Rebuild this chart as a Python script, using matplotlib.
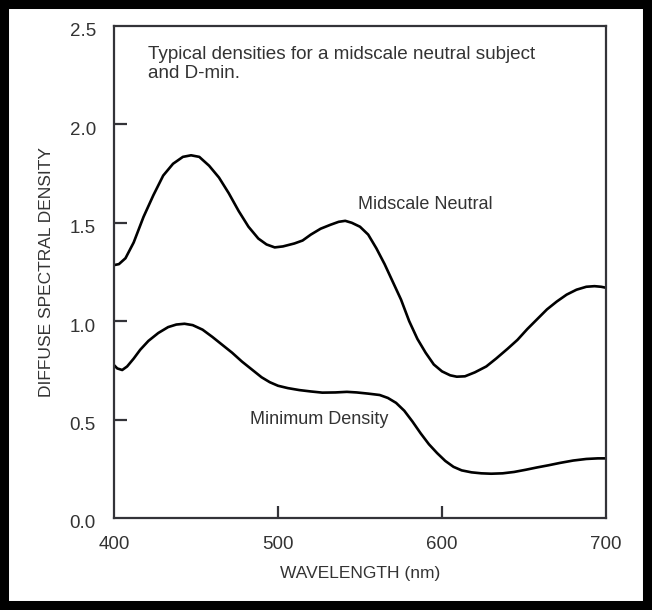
import matplotlib.pyplot as plt
from matplotlib.patches import Rectangle
from matplotlib.transforms import ScaledTranslation

# curves (wavelength in nm, diffuse spectral density)
mid_wl = [400, 403, 407, 412, 418, 424, 430, 436, 442, 447, 452, 458, 464, 470,
          476, 482, 488, 493, 498, 503, 510, 515, 520, 526, 532, 537, 541, 545,
          550, 555, 560, 565, 570, 575, 580, 585, 590, 595, 600, 605, 609, 614,
          620, 627, 633, 640, 646, 652, 658, 664, 670, 676, 682, 688, 693, 697, 700]
mid_d = [1.285, 1.29, 1.32, 1.40, 1.53, 1.64, 1.74, 1.80, 1.835, 1.843, 1.835,
         1.79, 1.73, 1.65, 1.56, 1.48, 1.42, 1.39, 1.375, 1.38, 1.395, 1.41,
         1.44, 1.47, 1.49, 1.505, 1.51, 1.50, 1.48, 1.44, 1.37, 1.29, 1.20,
         1.11, 1.00, 0.91, 0.84, 0.78, 0.745, 0.725, 0.718, 0.72, 0.74, 0.77,
         0.81, 0.86, 0.905, 0.96, 1.01, 1.06, 1.10, 1.135, 1.16, 1.175, 1.178,
         1.175, 1.17]

min_wl = [400, 402, 405, 408, 412, 416, 421, 427, 433, 438, 443, 448, 454, 460,
          466, 472, 478, 484, 490, 495, 500, 506, 513, 520, 527, 535, 542, 548,
          555, 562, 567, 572, 577, 582, 587, 592, 597, 602, 607, 612, 618, 624,
          630, 637, 644, 651, 658, 665, 672, 680, 688, 695, 700]
min_d = [0.777, 0.76, 0.752, 0.77, 0.81, 0.855, 0.90, 0.94, 0.97, 0.983, 0.987,
         0.98, 0.957, 0.92, 0.88, 0.84, 0.795, 0.755, 0.715, 0.69, 0.672, 0.66,
         0.65, 0.643, 0.637, 0.638, 0.641, 0.638, 0.632, 0.625, 0.61, 0.585,
         0.545, 0.49, 0.43, 0.375, 0.33, 0.29, 0.26, 0.242, 0.232, 0.227, 0.225,
         0.227, 0.234, 0.245, 0.257, 0.268, 0.28, 0.292, 0.30, 0.303, 0.303]

x_ticks = [400, 500, 600, 700]
y_ticks = [0.0, 0.5, 1.0, 1.5, 2.0, 2.5]

plt.rcParams['font.family'] = ['Liberation Sans', 'DejaVu Sans']
axis_col = '#333338'
text_col = '#333333'

fig = plt.figure(figsize=(6.52, 6.10), dpi=100)
ax = fig.add_axes([114 / 652, 1 - 518 / 610, 492 / 652, 492 / 610])

for wl, d in [(mid_wl, mid_d), (min_wl, min_d)]:
    ax.plot(wl, d, color='black', lw=1.9, solid_joinstyle='round',
            solid_capstyle='butt')

ax.set_xlim(400, 700)
ax.set_ylim(0, 2.5)
ax.set_xticks(x_ticks)
ax.set_yticks(y_ticks)
ax.set_xticklabels([str(v) for v in x_ticks])
ax.set_yticklabels([f'{v:.1f}' for v in y_ticks])

for sp in ax.spines.values():
    sp.set_color(axis_col)
    sp.set_linewidth(1.6)
ax.tick_params(direction='in', length=9, width=1.6, color=axis_col,
               labelsize=13.5, labelcolor=text_col)
ax.tick_params(axis='x', pad=13)
ax.tick_params(axis='y', pad=13)

# hide the end ticks that sit on the frame corners
for t in ax.xaxis.get_major_ticks():
    t.tick2line.set_visible(False)
for t in ax.yaxis.get_major_ticks():
    t.tick2line.set_visible(False)
ax.xaxis.get_major_ticks()[0].tick1line.set_visible(False)
ax.xaxis.get_major_ticks()[-1].tick1line.set_visible(False)
ax.yaxis.get_major_ticks()[0].tick1line.set_visible(False)
ax.yaxis.get_major_ticks()[-1].tick1line.set_visible(False)

# y labels sit a little below their ticks in the original
shift = ScaledTranslation(0, -4 / 100, fig.dpi_scale_trans)
for lab in ax.get_yticklabels():
    lab.set_transform(lab.get_transform() + shift)

ax.set_xlabel('WAVELENGTH (nm)', fontsize=12.5, color=text_col, labelpad=9)
ax.set_ylabel('DIFFUSE SPECTRAL DENSITY', fontsize=12.5, color=text_col, labelpad=11)

ax.text(420.5, 2.40, 'Typical densities for a midscale neutral subject\nand D-min.',
        fontsize=13.6, color=text_col, va='top', ha='left', linespacing=1.15)
ax.text(590, 1.595, 'Midscale Neutral', fontsize=13, color=text_col,
        ha='center', va='center')
ax.text(525, 0.50, 'Minimum Density', fontsize=13, color=text_col,
        ha='center', va='center')

# heavy black frame round the whole picture
fig.patches.append(Rectangle((0, 0), 1, 1, transform=fig.transFigure, fill=False,
                             edgecolor='black', lw=13, zorder=10))

fig.savefig('out.png', dpi=100)
